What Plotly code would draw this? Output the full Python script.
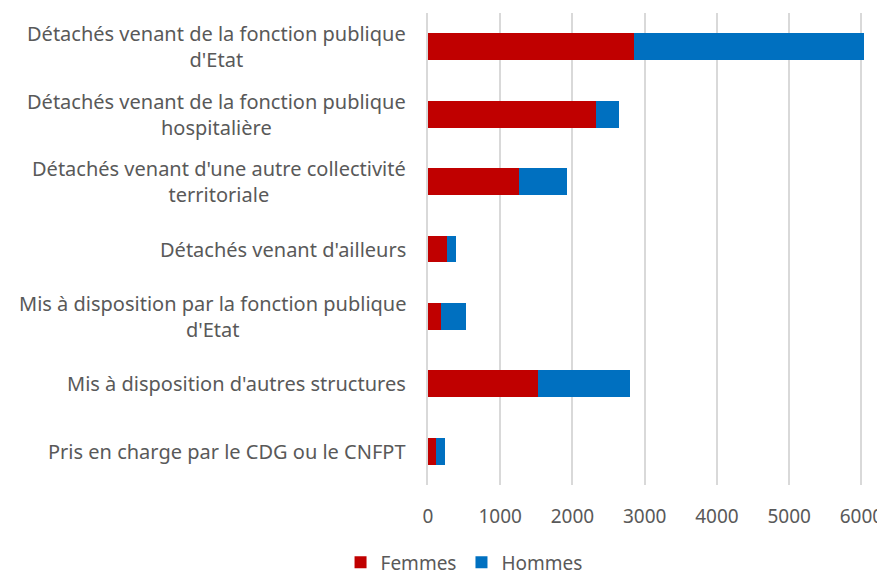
import plotly.graph_objects as go

categories = [
    "Détachés venant de la fonction publique<br>d'Etat",
    "Détachés venant de la fonction publique<br>hospitalière",
    "Détachés venant d'une autre collectivité<br>territoriale",
    "Détachés venant d'ailleurs",
    "Mis à disposition par la fonction publique<br>d'Etat",
    "Mis à disposition d'autres structures",
    "Pris en charge par le CDG ou le CNFPT",
]
femmes = [2854, 2328, 1266, 263, 185, 1520, 111]
hommes = [3187, 318, 660, 125, 346, 1270, 129]
tick_vals = [0, 1000, 2000, 3000, 4000, 5000, 6000]

FONT = "Noto Sans"
GREY = "#595959"

fig = go.Figure()
fig.add_trace(go.Bar(y=categories, x=femmes, name="Femmes", orientation="h",
                     marker=dict(color="#C00000", line=dict(width=0))))
fig.add_trace(go.Bar(y=categories, x=hommes, name="Hommes", orientation="h",
                     marker=dict(color="#0070C0", line=dict(width=0))))

# category labels as annotations so that wrapped lines are centred
for cat in categories:
    fig.add_annotation(
        x=0, xref="paper", y=cat, yref="y",
        text=cat, showarrow=False, xanchor="right", xshift=-20,
        align="center" if "<br>" in cat else "right",
        font=dict(family=FONT, size=20, color=GREY),
    )

# the page puts the figure 8px in from the top-left corner
fig.update_layout(
    width=877, height=568,
    margin=dict(l=420, r=20, t=5, b=91),
    barmode="stack", bargap=0.6,
    plot_bgcolor="white", paper_bgcolor="white",
    font=dict(family=FONT, size=20, color=GREY),
    legend=dict(orientation="h", xref="container", x=0.52, xanchor="center",
                yref="container", y=0.024, yanchor="middle",
                font=dict(size=19, color=GREY), itemwidth=30, traceorder="normal"),
    showlegend=True,
)
fig.update_xaxes(range=[0, 6050], tickvals=tick_vals, showgrid=True,
                 gridcolor="#D9D9D9", gridwidth=1.5, zeroline=False,
                 showline=False, ticklabelstandoff=18, automargin=False,
                 tickfont=dict(family=FONT, size=19, color=GREY))
fig.update_yaxes(autorange="reversed", showticklabels=False, showgrid=False,
                 showline=True, linecolor="#D9D9D9", linewidth=1.5, automargin=False)

fig.write_html("out.html")
